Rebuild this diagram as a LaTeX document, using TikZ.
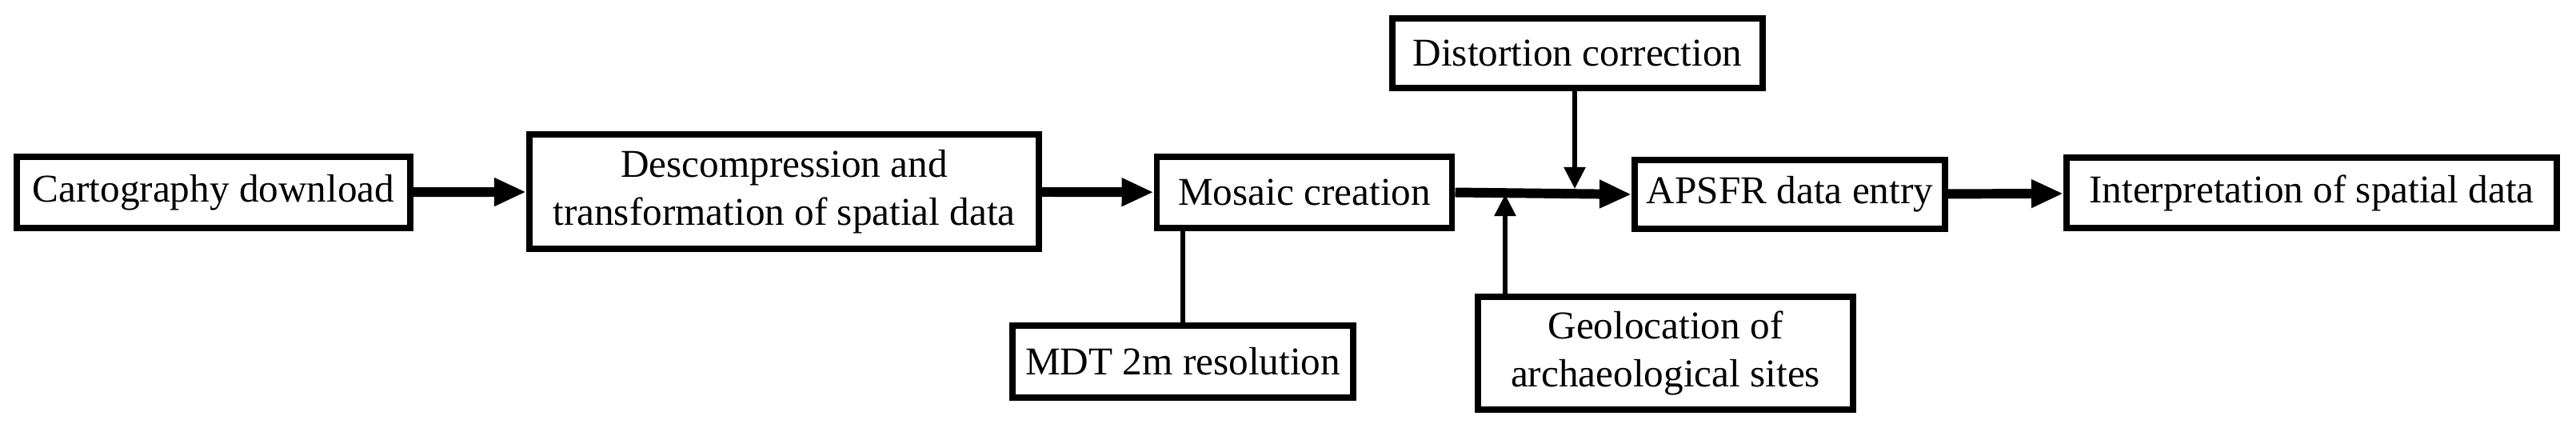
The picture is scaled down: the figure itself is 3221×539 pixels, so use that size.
\documentclass[tikz,border=0pt]{standalone}
\usepackage{fontspec}
\setmainfont{Liberation Serif}
\usetikzlibrary{arrows.meta,calc}
\begin{document}
\begin{tikzpicture}[x=0.01cm,y=-0.01cm,
  box/.style={draw,line width=2.2pt,inner sep=0pt,align=center,font=\fontsize{14}{17}\selectfont},
  mainarr/.style={line width=3.4pt,-{Triangle[length=0.4cm,width=0.33cm]}},
  thinarr/.style={line width=1.6pt,-{Triangle[length=0.27cm,width=0.26cm]}},
  thinline/.style={line width=1.6pt}]
\useasboundingbox (0,0) rectangle (3221,539);
\node[box,minimum width=4.92cm,minimum height=0.89cm] (cart) at (267,240.5) {Cartography download};
\node[box,minimum width=6.37cm,minimum height=1.43cm] (desc) at (980.5,239.5) {Descompression and\\transformation of spatial data};
\node[box,minimum width=3.69cm,minimum height=0.89cm] (mos) at (1631,240.5) {Mosaic creation};
\node[box,minimum width=4.26cm,minimum height=0.90cm] (mdt) at (1479,452) {MDT 2m resolution};
\node[box,minimum width=4.63cm,minimum height=0.87cm] (dist) at (1972.5,66.5) {Distortion correction};
\node[box,minimum width=3.88cm,minimum height=0.86cm] (aps) at (2238,243) {APSFR data entry};
\node[box,minimum width=6.13cm,minimum height=0.88cm] (interp) at (2890.5,241) {Interpretation of spatial data};
\node[box,minimum width=4.69cm,minimum height=1.41cm] (geo) at (2082.5,441.5) {Geolocation of\\archaeological sites};
\coordinate (gtop) at (1882,371);
\draw[mainarr] (cart) -- (desc);
\draw[mainarr] (desc) -- (mos);
\draw[mainarr] (mos.east) -- (aps.west);
\draw[mainarr] (aps) -- (interp);
\draw[thinline] (mdt.north) -- (mdt.north |- mos.south);
\draw[thinarr] (dist.south -| 1969,0) -- (1969,236);
\draw[thinarr] (gtop) -- (1882,243);
\end{tikzpicture}
\end{document}
